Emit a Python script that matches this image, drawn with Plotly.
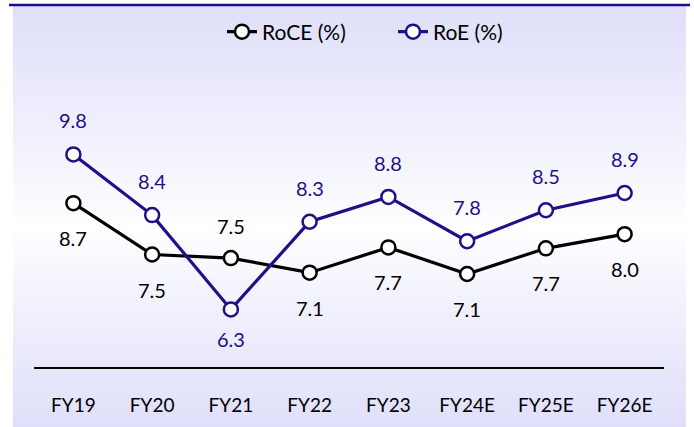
import plotly.graph_objects as go

categories = ["FY19", "FY20", "FY21", "FY22", "FY23", "FY24E", "FY25E", "FY26E"]
roce = [8.7, 7.54, 7.46, 7.13, 7.7, 7.1, 7.68, 8.0]
roe = [9.8, 8.43, 6.3, 8.28, 8.84, 7.84, 8.54, 8.93]
roce_label_side = ["below", "below", "above", "below", "below", "below", "below", "below"]
roe_label_side = ["above", "above", "below", "above", "above", "above", "above", "above"]

W, H = 694, 427
ML, MR, MT, MB = 34, 30, 57, 60
PW = W - ML - MR
PH = H - MT - MB

def px(x):
    return (x - ML) / PW

def py(y):
    return (H - MB - y) / PH

FONT = "Lato"
NAVY = "#1E0F8A"

fig = go.Figure()
fig.add_trace(go.Scatter(
    x=categories, y=roce, name="RoCE (%)", mode="lines+markers",
    line=dict(color="black", width=3.2),
    marker=dict(size=14, color="white", line=dict(color="black", width=2.5)),
))
fig.add_trace(go.Scatter(
    x=categories, y=roe, name="RoE (%)", mode="lines+markers",
    line=dict(color=NAVY, width=3.2),
    marker=dict(size=14, color="white", line=dict(color=NAVY, width=2.5)),
))

annotations = []
for c, v, side in zip(categories, roce, roce_label_side):
    annotations.append(dict(x=c, y=v, text=f"{v:.1f}", showarrow=False,
                            yshift=32 if side == "above" else -35,
                            font=dict(family=FONT, size=20, color="black")))
for c, v, side in zip(categories, roe, roe_label_side):
    annotations.append(dict(x=c, y=v, text=f"{v:.1f}", showarrow=False,
                            yshift=34 if side == "above" else -30,
                            font=dict(family=FONT, size=20, color=NAVY)))

# background gradient bands (lavender top -> white middle -> lavender bottom)
shapes = []
top, bot, mid = 6, 427, 228
lav = (223, 223, 250)
step = 4
y = top
while y < bot:
    yc = y + step / 2
    if yc < mid:
        t = (mid - yc) / (mid - top)
    else:
        t = (yc - mid) / (bot - mid)
    t = min(1.0, max(0.0, t)) ** 0.9
    col = tuple(round(255 + (l - 255) * t) for l in lav)
    shapes.append(dict(type="rect", xref="paper", yref="paper", layer="below",
                       x0=px(13), x1=px(686), y0=py(y + step), y1=py(y),
                       fillcolor=f"rgb{col}", line=dict(width=0)))
    y += step
shapes.append(dict(type="line", xref="paper", yref="paper",
                   x0=px(9), x1=px(690), y0=py(5), y1=py(5),
                   line=dict(color=NAVY, width=2.5)))

fig.update_layout(
    width=W, height=H,
    margin=dict(l=ML, r=MR, t=MT, b=MB, autoexpand=False),
    paper_bgcolor="white", plot_bgcolor="rgba(0,0,0,0)",
    font=dict(family=FONT, size=20, color="black"),
    showlegend=True,
    legend=dict(orientation="h", x=px(222), xanchor="left", y=py(32), yanchor="middle",
                font=dict(family=FONT, size=21), bgcolor="rgba(0,0,0,0)",
                entrywidth=126, entrywidthmode="pixels", tracegroupgap=0),
    annotations=annotations,
    shapes=shapes,
    xaxis=dict(type="category", range=[-0.5, 7.5], showgrid=False, zeroline=False,
               showline=True, linecolor="black", linewidth=2, ticks="", automargin=False,
               ticklabelstandoff=20, tickfont=dict(family=FONT, size=19, color="black")),
    yaxis=dict(range=[5.0, 12.0], visible=False, showgrid=False, zeroline=False,
               automargin=False),
)

fig.write_html("out.html", config={"displayModeBar": False},
               post_script="document.body.style.margin='0';document.body.style.padding='0';")
